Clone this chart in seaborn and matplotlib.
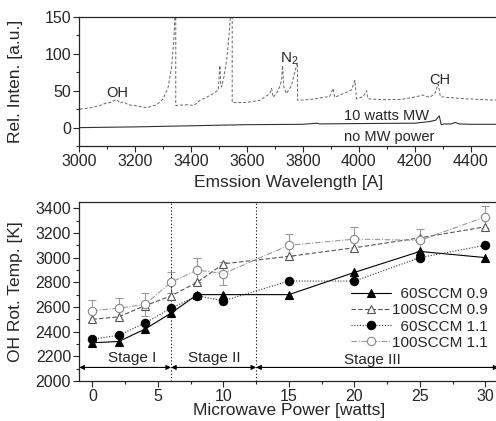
import numpy as np
import pandas as pd
import matplotlib
matplotlib.use("Agg")
import matplotlib.pyplot as plt
from matplotlib.ticker import MultipleLocator
import seaborn as sns

# ---- spectrum ----
wl_mw = [3002, 3040, 3074, 3095, 3110, 3120, 3134, 3145, 3157, 3175, 3193, 3241, 3277, 3300,
         3318, 3330, 3338, 3343, 3345, 3345, 3384, 3410, 3420, 3431, 3455, 3479, 3497, 3503,
         3506, 3509, 3517, 3527, 3536, 3544, 3547, 3547, 3598, 3646, 3682, 3688, 3694, 3712,
         3724, 3727, 3732, 3741, 3759, 3771, 3780, 3781, 3825, 3873, 3896, 3908, 3914, 3944,
         3974, 3986, 3992, 4016, 4028, 4033, 4087, 4147, 4194, 4230, 4254, 4272, 4284, 4292,
         4314, 4385, 4500]
int_mw = [25, 27, 30, 33, 34, 36, 38, 33, 35, 31, 30, 27, 31, 39,
          55, 82, 118, 160, 170, 30, 31, 30, 33, 37, 41, 46, 51, 84,
          58, 55, 68, 91, 127, 170, 170, 34, 34, 37, 46, 53, 41, 50,
          64, 84, 55, 46, 57, 75, 88, 37, 38, 41, 42, 53, 41, 46,
          51, 64, 39, 42, 50, 39, 38, 38, 41, 44, 41, 46, 59, 42,
          41, 39, 37]

wl_off = [3000, 3200, 3400, 3600, 3800, 3850, 3860, 4000, 4200, 4250, 4275, 4288, 4295, 4305,
          4330, 4345, 4360, 4400, 4500]
int_off = [0, 1, 2.5, 4, 4.5, 6, 5, 5.5, 6, 8, 10, 16, 4, 5,
           5, 7, 5, 4.5, 4.5]

# ---- OH rotational temperature ----
power = [0, 2, 4, 6, 8, 10, 15, 20, 25, 30]
t60_09 = [2310, 2320, 2420, 2550, 2700, 2700, 2700, 2880, 3050, 3000]
t100_09 = [2500, 2520, 2610, 2690, 2800, 2950, 3010, 3080, 3160, 3250]
t60_11 = [2340, 2370, 2470, 2590, 2690, 2650, 2810, 2810, 3000, 3100]
t100_11 = [2570, 2590, 2620, 2800, 2900, 2870, 3100, 3150, 3140, 3330]
err100_11 = [90, 85, 95, 85, 95, 95, 90, 100, 90, 90]

sns.set_style("ticks")
plt.rcParams['font.family'] = ['Liberation Sans', 'DejaVu Sans']
plt.rcParams['mathtext.default'] = 'regular'
plt.rcParams['xtick.direction'] = 'out'
plt.rcParams['ytick.direction'] = 'out'

fig = plt.figure(figsize=(4.96, 4.21), dpi=100)
ax1 = fig.add_axes([0.160, 0.653, 0.845, 0.307])
ax2 = fig.add_axes([0.160, 0.095, 0.845, 0.425])

fs_lab = 12.5
fs_tick = 11.5

# top panel
sns.lineplot(x=wl_mw, y=int_mw, ax=ax1, sort=False, estimator=None, color="#666666",
             lw=0.7, linestyle=(0, (3, 2)))
sns.lineplot(x=wl_off, y=int_off, ax=ax1, sort=False, estimator=None, color="#333333", lw=0.8)
ax1.set_xlim(3000, 4500)
ax1.set_ylim(-25, 150)
ax1.xaxis.set_major_locator(MultipleLocator(200))
ax1.xaxis.set_minor_locator(MultipleLocator(100))
ax1.yaxis.set_major_locator(MultipleLocator(50))
ax1.yaxis.set_minor_locator(MultipleLocator(25))
ax1.set_xlabel("Emssion Wavelength [A]", fontsize=fs_lab)
ax1.set_ylabel("Rel. Inten. [a.u.]", fontsize=fs_lab)
ax1.xaxis.set_label_coords(0.5, -0.225)
ax1.yaxis.set_label_coords(-0.135, 0.5)
ax1.text(3134, 47, "OH", fontsize=10.5, ha="center", va="center")
ax1.text(3752, 93, "N$_2$", fontsize=11, ha="center", va="center")
ax1.text(4290, 64, "CH", fontsize=10.5, ha="center", va="center")
ax1.text(4100, 16, "10 watts MW", fontsize=10.5, ha="center", va="center")
ax1.text(4110, -13, "no MW power", fontsize=10.5, ha="center", va="center")

# bottom panel
df = pd.DataFrame({"power": power * 4,
                   "temp": t60_09 + t100_09 + t60_11 + t100_11,
                   "series": ["60SCCM 0.9"] * 10 + ["100SCCM 0.9"] * 10
                             + ["60SCCM 1.1"] * 10 + ["100SCCM 1.1"] * 10})

ax2.errorbar(power, t100_11, yerr=err100_11, fmt="none", ecolor="#999999",
             elinewidth=0.8, capsize=3, capthick=0.8, zorder=1)

styles = {
    "60SCCM 0.9": dict(color="black", ls="-", marker="^", mfc="black", mec="black"),
    "100SCCM 0.9": dict(color="#555555", ls=(0, (4, 2)), marker="^", mfc="white", mec="#555555"),
    "60SCCM 1.1": dict(color="#333333", ls=(0, (1, 1.5)), marker="o", mfc="black", mec="black"),
    "100SCCM 1.1": dict(color="#999999", ls=(0, (5, 1.5, 1, 1.5)), marker="o", mfc="white", mec="#888888"),
}
labels = {"60SCCM 0.9": "\u200760SCCM 0.9", "100SCCM 0.9": "100SCCM 0.9",
          "60SCCM 1.1": "\u200760SCCM 1.1", "100SCCM 1.1": "100SCCM 1.1"}
for name, st in styles.items():
    sub = df[df["series"] == name]
    sns.lineplot(data=sub, x="power", y="temp", ax=ax2, estimator=None,
                 color=st["color"], linestyle=st["ls"], lw=0.8, marker=st["marker"],
                 markersize=6, markerfacecolor=st["mfc"], markeredgecolor=st["mec"],
                 markeredgewidth=0.8, label=labels[name], zorder=3)

ax2.set_xlim(-1, 31)
ax2.set_ylim(2000, 3450)
ax2.xaxis.set_major_locator(MultipleLocator(5))
ax2.xaxis.set_minor_locator(MultipleLocator(2.5))
ax2.yaxis.set_major_locator(MultipleLocator(200))
ax2.yaxis.set_minor_locator(MultipleLocator(100))
ax2.set_xlabel("Microwave Power [watts]", fontsize=fs_lab)
ax2.set_ylabel("OH Rot. Temp. [K]", fontsize=fs_lab)
ax2.xaxis.set_label_coords(0.5, -0.125)
ax2.yaxis.set_label_coords(-0.135, 0.5)

for x in [6, 12.5]:
    ax2.axvline(x, color="black", ls=(0, (1, 2)), lw=0.8, zorder=2)

arrow_y = 2110
for x0, x1 in [(-1, 6), (6, 12.5), (12.5, 31)]:
    ax2.annotate("", xy=(x1, arrow_y), xytext=(x0, arrow_y),
                 arrowprops=dict(arrowstyle="<|-|>", color="black", lw=0.8,
                                 mutation_scale=7, shrinkA=0, shrinkB=0))
ax2.text(3.0, 2185, "Stage I", fontsize=11, ha="center", va="center")
ax2.text(9.3, 2185, "Stage II", fontsize=11, ha="center", va="center")
ax2.text(21.4, 2170, "Stage III", fontsize=11, ha="center", va="center")

leg = ax2.legend(loc="lower right", bbox_to_anchor=(0.99, 0.14), frameon=False,
                 fontsize=11, handlelength=2.6, handletextpad=0.1, labelspacing=0.15,
                 borderaxespad=0)

for ax in (ax1, ax2):
    ax.tick_params(which="major", length=4, width=0.8, labelsize=fs_tick, pad=2)
    ax.tick_params(which="minor", length=2.5, width=0.8)
    for sp in ax.spines.values():
        sp.set_linewidth(0.9)
        sp.set_visible(True)

fig.savefig("out.png", dpi=100)
